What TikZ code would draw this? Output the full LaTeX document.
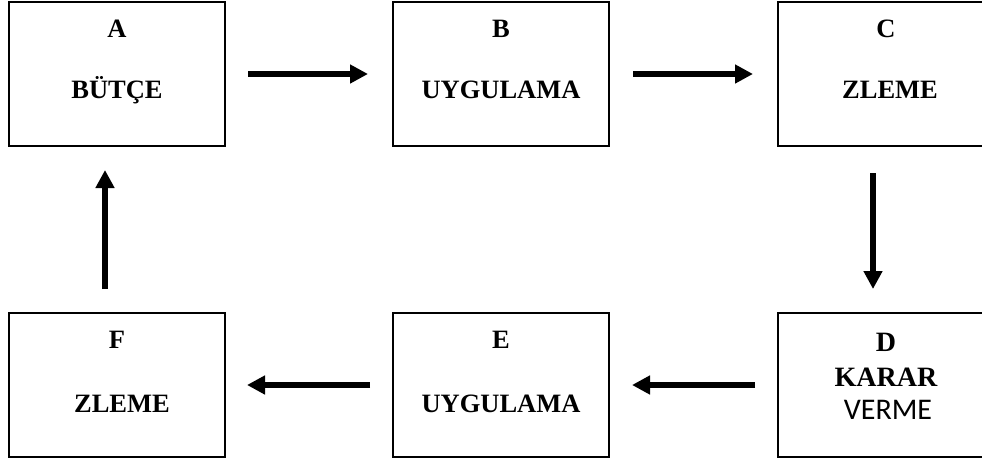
\documentclass[tikz,border=0pt]{standalone}
\usepackage{fontspec}
\setmainfont{Liberation Serif}
\newfontfamily\vermefont{Carlito}
\usetikzlibrary{arrows.meta}

\tikzset{
  stage/.style={draw=black, line width=2pt, minimum width=216pt, minimum height=144pt,
                inner sep=0pt, outer sep=0pt},
  tag/.style={font=\fontsize{26.5}{30}\selectfont\bfseries, anchor=base, inner sep=0pt},
  bigtag/.style={font=\fontsize{28}{32}\selectfont\bfseries, anchor=base, inner sep=0pt},
  plaintag/.style={font=\vermefont\fontsize{30}{34}\selectfont, anchor=base, inner sep=0pt},
  flow/.style={line width=6.5pt, -{Triangle[length=18pt,width=18pt]}}
}

\begin{document}
\begin{tikzpicture}[x=1pt, y=-1pt]
  \useasboundingbox (0,0) rectangle (982,461);
  \clip (0,0) rectangle (982,461);

  % boxes of the cycle (upper row, lower row)
  \node[stage] (A) at (117,74)  {};
  \node[stage] (B) at (501,74)  {};
  \node[stage] (C) at (886,74)  {};
  \node[stage] (D) at (886,385) {};
  \node[stage] (E) at (501,385) {};
  \node[stage] (F) at (117,385) {};

  % box texts (shifts are measured downwards from the top edge)
  \node[tag] (tA)  at ([yshift=-35]A.north) {A};
  \node[tag] (wA)  at ([yshift=-96]A.north) {BÜTÇE};
  \node[tag] (tB)  at ([yshift=-35]B.north) {B};
  \node[tag] (wB)  at ([yshift=-96]B.north) {UYGULAMA};
  \node[tag] (tC)  at ([yshift=-35]C.north) {C};
  \node[tag] (wC)  at ([xshift=4,yshift=-96]C.north) {ZLEME};

  \node[bigtag]   (tD)  at ([yshift=-38]D.north)  {D};
  \node[bigtag]   (wD)  at ([yshift=-73]D.north)  {KARAR};
  \node[plaintag] (vD)  at ([xshift=2,yshift=-106]D.north) {VERME};
  \node[tag] (tE)  at ([yshift=-35]E.north) {E};
  \node[tag] (wE)  at ([yshift=-99]E.north) {UYGULAMA};
  \node[tag] (tF)  at ([yshift=-35]F.north) {F};
  \node[tag] (wF)  at ([xshift=5,yshift=-99]F.north) {ZLEME};

  % arrows between the stages
  \draw[flow, shorten <=23pt, shorten >=25pt] (A.east) -- (B.west);
  \draw[flow, shorten <=24pt, shorten >=25pt] (B.east) -- (C.west);
  \draw[flow, shorten <=27pt, shorten >=24pt] ([xshift=-13]C.south) -- ([xshift=-13]D.north);
  \draw[flow, shorten <=23pt, shorten >=23pt] (D.west) -- (E.east);
  \draw[flow, shorten <=23pt, shorten >=22pt] (E.west) -- (F.east);
  \draw[flow, shorten <=24pt, shorten >=24pt] ([xshift=-12]F.north) -- ([xshift=-12]A.south);
\end{tikzpicture}
\end{document}
